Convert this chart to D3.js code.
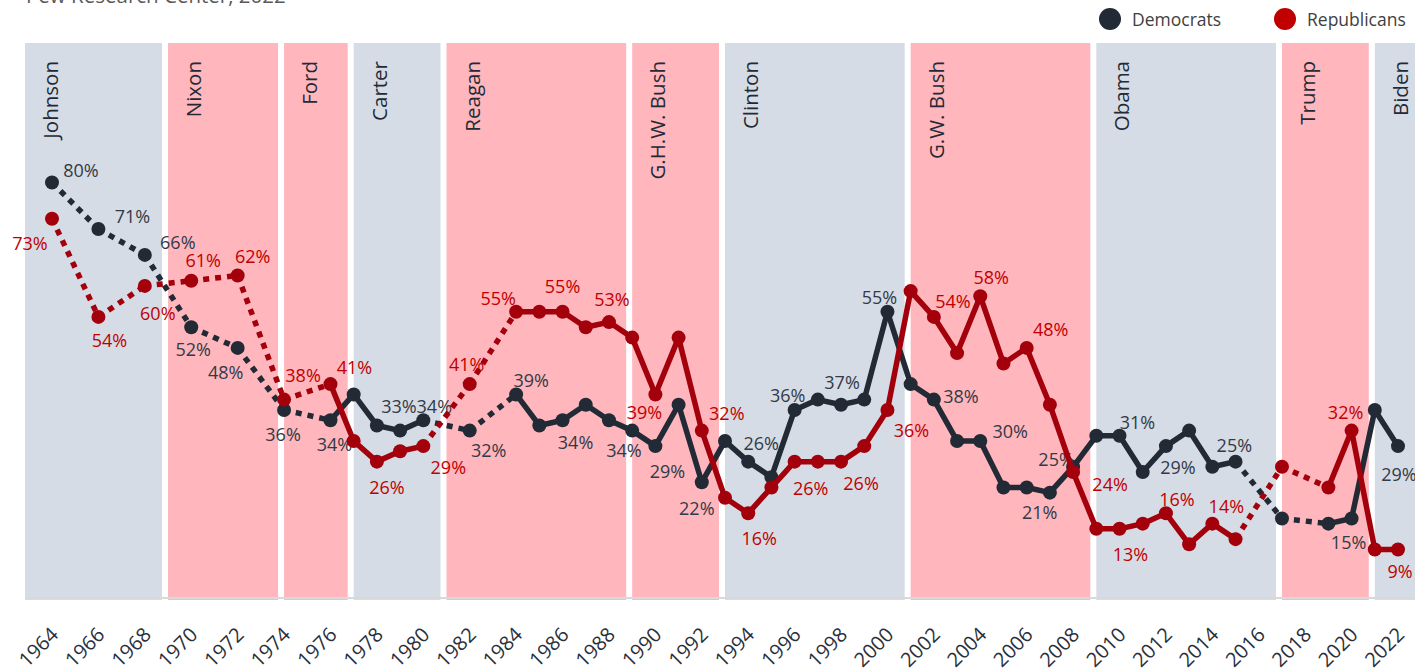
<!DOCTYPE html>
<meta charset="utf-8">
<script src="https://d3js.org/d3.v7.min.js"></script>
<style>
body { margin: 0; background: #fff; }
svg { display: block; font-family: "Open Sans", "Noto Sans", sans-serif; }
</style>
<body>
<script>
// survey years (same for both parties)
var years = [1964, 1966, 1968, 1970, 1972, 1974, 1976, 1977, 1978, 1979, 1980, 1982,
  1984, 1985, 1986, 1987, 1988, 1989, 1990, 1991, 1992, 1993, 1994, 1995, 1996, 1997,
  1998, 1999, 2000, 2001, 2002, 2003, 2004, 2005, 2006, 2007, 2008, 2009, 2010, 2011,
  2012, 2013, 2014, 2015, 2017, 2019, 2020, 2021, 2022];

// percent who trust the federal government
var democrats = [80, 71, 66, 52, 48, 36, 34, 39, 33, 32, 34, 32,
  39, 33, 34, 37, 34, 32, 29, 37, 22, 30, 26, 23, 36, 38,
  37, 38, 55, 41, 38, 30, 30, 21, 21, 20, 25, 31, 31, 24,
  29, 32, 25, 26, 15, 14, 15, 36, 29];
var republicans = [73, 54, 60, 61, 62, 38, 41, 30, 26, 28, 29, 41,
  55, 55, 55, 52, 53, 50, 39, 50, 32, 19, 16, 21, 26, 26,
  26, 29, 36, 59, 54, 47, 58, 45, 48, 37, 24, 13, 13, 14,
  16, 10, 14, 11, 25, 21, 32, 9, 9];

// presidencies
var presidents = ["Johnson", "Nixon", "Ford", "Carter", "Reagan", "G.H.W. Bush", "Clinton", "G.W. Bush", "Obama", "Trump", "Biden"];
var termStart = [1963, 1969, 1974, 1977, 1981, 1989, 1993, 2001, 2009, 2017, 2021];
var termEnd = [1969, 1974, 1977, 1981, 1989, 1993, 2001, 2009, 2017, 2021, 2023];
var termParty = ["D", "R", "R", "D", "R", "R", "D", "R", "D", "R", "D"];

var tickYears = [1964, 1966, 1968, 1970, 1972, 1974, 1976, 1978, 1980, 1982, 1984, 1986,
  1988, 1990, 1992, 1994, 1996, 1998, 2000, 2002, 2004, 2006, 2008, 2010, 2012, 2014,
  2016, 2018, 2020, 2022];

// which points carry a value label, and where the label sits (offset from the point)
var demLabels = [[1964, 29, -13], [1966, 34, -13], [1968, 33, -13], [1970, 2, 22], [1972, -12, 24],
  [1974, -1, 24], [1976, 4, 24], [1978, 22, -19], [1980, 11, -14], [1982, 19, 19], [1984, 15, -14],
  [1986, 13, 22], [1988, 15, 30], [1990, 12, 25], [1992, -5, 26], [1994, 13, -19], [1996, -7, -15],
  [1998, 1, -23], [2000, -8, -15], [2002, 27, -4], [2004, 30, -10], [2006, 13, 25], [2008, -17, -8],
  [2010, 18, -14], [2012, 12, 21], [2014, 22, -22], [2020, -3, 24], [2022, 1, 28]];
var repLabels = [[1964, -22, 24], [1966, 11, 23], [1968, 13, 27], [1970, 12, -21], [1972, 15, -20],
  [1974, 19, -25], [1976, 24, -17], [1978, 10, 25], [1980, 25, 21], [1982, -3, -20], [1984, -18, -14],
  [1986, 0, -26], [1988, 3, -23], [1990, -11, 18], [1992, 25, -18], [1994, 11, 25], [1996, 16, 26],
  [1998, 20, 21], [2000, 24, 20], [2002, 19, -16], [2004, 11, -19], [2006, 24, -19], [2008, 37, 12],
  [2010, 11, 25], [2012, 11, -14], [2014, 14, -18], [2020, -6, -19], [2022, 2, 22]];

var W = 1415, H = 670;
var plot = {left: 25, right: 1415, top: 43, bottom: 600};

var demColor = "#222a35", demText = "#333a45";
var repColor = "#a3000c", repText = "#c00000";
var bandColor = {D: "#d6dce5", R: "#ffb6bd"};

var svg = d3.select("body").append("svg")
  .attr("width", W)
  .attr("height", H);

var x = d3.scaleLinear()
  .domain([1964, 2022])
  .range([52, 1398]);
var y = d3.scaleLinear()
  .domain([0, 107])
  .range([596, plot.top]);

// source line, cut by the top edge
svg.append("text")
  .attr("x", 26)
  .attr("y", 3)
  .attr("font-size", "20.5px")
  .attr("fill", "#595959")
  .text("Pew Research Center, 2022");

// presidency bands
var bands = svg.append("g");
presidents.forEach(function(name, i) {
  var x0 = i === 0 ? plot.left : x(termStart[i]);
  var x1 = Math.min(plot.right, x(termEnd[i]) - 6);
  bands.append("rect")
    .attr("x", x0)
    .attr("y", plot.top)
    .attr("width", x1 - x0)
    .attr("height", plot.bottom - plot.top)
    .attr("fill", bandColor[termParty[i]]);
  bands.append("text")
    .attr("transform", "translate(" + (x0 + 33) + ",61) rotate(-90)")
    .attr("text-anchor", "end")
    .attr("font-size", "20.5px")
    .attr("fill", "#222a35")
    .text(name);
});

// x axis
var xAxis = d3.axisBottom(x)
  .tickValues(tickYears)
  .tickFormat(d3.format("d"))
  .tickSize(0);
var gx = svg.append("g")
  .attr("transform", "translate(0,598)")
  .call(xAxis);
gx.select(".domain").remove();
gx.append("line")
  .attr("x1", plot.left).attr("x2", plot.right)
  .attr("stroke", "#d9d9d9")
  .attr("stroke-width", 2);
gx.selectAll(".tick text")
  .attr("x", null).attr("y", null).attr("dy", null)
  .attr("transform", "translate(7,38) rotate(-45)")
  .style("text-anchor", "end")
  .attr("font-size", "20px")
  .attr("font-family", "Open Sans, sans-serif")
  .attr("fill", "#2a303b");

function drawSeries(values, lineColor, textColor, labels) {
  var pts = years.map(function(yr, i) { return {year: yr, value: values[i]}; });
  var g = svg.append("g");
  // segments: dotted where a year (or more) was skipped
  d3.pairs(pts).forEach(function(p) {
    var gap = p[1].year - p[0].year > 1;
    g.append("line")
      .attr("x1", x(p[0].year)).attr("y1", y(p[0].value))
      .attr("x2", x(p[1].year)).attr("y2", y(p[1].value))
      .attr("stroke", lineColor)
      .attr("stroke-width", 5.5)
      .attr("stroke-linecap", gap ? "butt" : "round")
      .attr("stroke-dasharray", gap ? "6,6" : null);
  });
  g.selectAll("circle")
    .data(pts)
    .enter().append("circle")
    .attr("cx", function(d) { return x(d.year); })
    .attr("cy", function(d) { return y(d.value); })
    .attr("r", 7)
    .attr("fill", lineColor);
  labels.forEach(function(l) {
    var v = values[years.indexOf(l[0])];
    g.append("text")
      .attr("x", x(l[0]) + l[1])
      .attr("y", y(v) + l[2])
      .attr("text-anchor", "middle")
      .attr("dominant-baseline", "central")
      .attr("font-size", "18px")
      .attr("fill", textColor)
      .text(v + "%");
  });
}

drawSeries(democrats, demColor, demText, demLabels);
drawSeries(republicans, repColor, repText, repLabels);

// legend
var legend = svg.append("g");
[["Democrats", demColor, 1110], ["Republicans", "#c00000", 1285]].forEach(function(d) {
  legend.append("circle")
    .attr("cx", d[2]).attr("cy", 19).attr("r", 11)
    .attr("fill", d[1]);
  legend.append("text")
    .attr("x", d[2] + 22).attr("y", 19)
    .attr("dominant-baseline", "central")
    .attr("font-size", "17.5px")
    .attr("fill", "#404040")
    .text(d[0]);
});
</script>
</body>
